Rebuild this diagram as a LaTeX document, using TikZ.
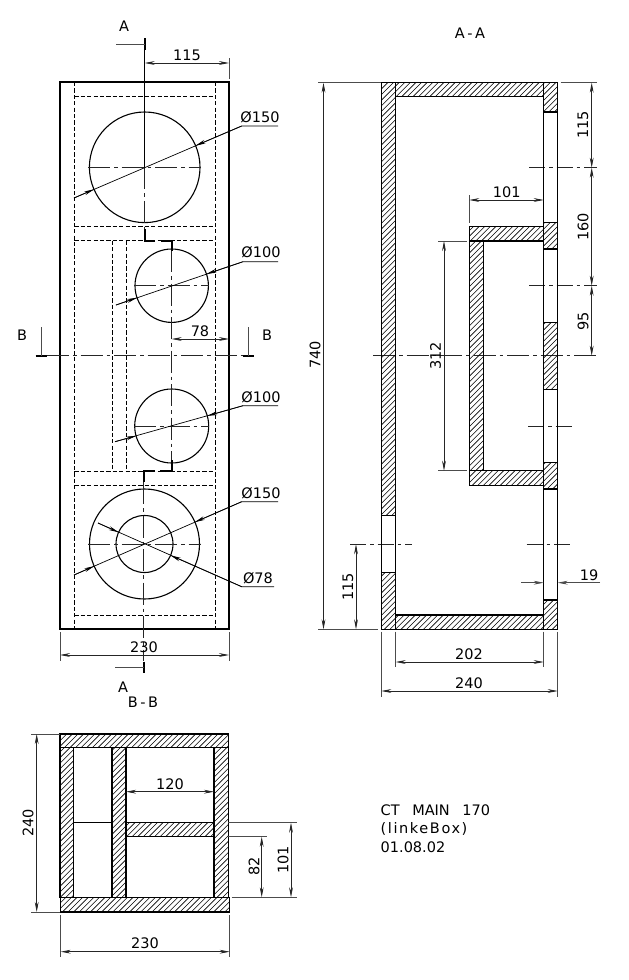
\documentclass[tikz,border=0pt]{standalone}
\usepackage{fontspec}
\setmainfont{DejaVu Sans}
\usetikzlibrary{arrows.meta,calc}
\tikzset{
  outline/.style={line width=1.4pt,black},
  wall/.style={line width=1.4pt,black},
  hidden/.style={line width=0.75pt,black,dash pattern=on 4.2pt off 2.2pt},
  center/.style={line width=0.7pt,black!85,dash pattern=on 22pt off 4pt on 3.5pt off 4pt},
  shortcenter/.style={center,dash pattern=on 16pt off 4pt on 3.5pt off 4pt},
  dim/.style={line width=0.7pt,black!85,{Stealth[length=10pt,width=3.8pt]}-{Stealth[length=10pt,width=3.8pt]}},
  extline/.style={line width=0.65pt,black!70},
  leader/.style={line width=0.7pt,black},
  tip/.style={-{Stealth[length=10pt,width=3.8pt]}},
  sect/.style={line width=2.2pt,black},
  lab/.style={font=\fontsize{14.5}{14.5}\selectfont,inner sep=0pt,text=black},
  hole/.style={line width=1.1pt,black}
}
\newcommand{\hatchbox}[4]{%
  \begin{scope}
    \clip (#1,#2) rectangle (#3,#4);
    \pgfmathtruncatemacro{\ha}{floor((#1+#2)/5.6)}
    \pgfmathtruncatemacro{\hb}{ceil((#3+#4)/5.6)}
    \foreach \hi in {\ha,...,\hb}{
      \pgfmathsetmacro{\hc}{\hi*5.6}
      \draw[line width=0.6pt,black] ({\hc-#2},#2) -- ({\hc-#4},#4);
    }
  \end{scope}
  \draw[wall] (#1,#2) rectangle (#3,#4);
}
\newcommand{\diamleader}[8]{% x1 y1 cx cy kx ky endx r
  \draw[leader] (#1,#2) -- (#5,#6) -- (#7,#6);
  \path let \n1={atan2(#2-#4,#1-#3)} in
    coordinate (tipa) at ({#3+#8*cos(\n1)},{#4+#8*sin(\n1)});
  \path let \n1={atan2(#6-#4,#5-#3)} in
    coordinate (tipb) at ({#3+#8*cos(\n1)},{#4+#8*sin(\n1)});
  \draw[leader,tip] (#1,#2) -- (tipa);
  \draw[leader,tip] (#5,#6) -- (tipb);
}
\begin{document}
\begin{tikzpicture}[x=1pt,y=-1pt]
\useasboundingbox (0,0) rectangle (629,980);
\fill[white] (0,0) rectangle (629,980);

% ===== FRONT VIEW =====
\draw[hidden] (74.3,82) -- (74.3,629) (215,82) -- (215,629);
\draw[hidden] (74.3,96.7) -- (215,96.7) (74.3,226) -- (215,226) (74.3,240.7) -- (215,240.7)
  (74.3,471) -- (215,471) (74.3,485) -- (215,485) (74.3,615) -- (215,615);
\draw[hidden] (112.7,240.7) -- (112.7,471) (126.7,240.7) -- (126.7,471);
\draw[outline] (60,82) rectangle (229,629);

\draw[hole] (144.7,167.3) circle (55.3);
\draw[hole] (171.7,285.7) circle (36.7);
\draw[hole] (171.7,426) circle (37);
\draw[hole] (144.5,544) circle (55);
\draw[hole] (144.5,544) circle (28.5);

% centre lines
\draw[center] (88,167.3) -- (200.7,167.3);
\draw[center] (134,285.7) -- (209,285.7);
\draw[center] (134,426) -- (209,426);
\draw[center] (88,544) -- (200.7,544);
\draw[leader] (144.6,50) -- (144.6,167.3);
\draw[center] (144.6,167.3) -- (144.6,229);
\draw[center] (171.7,250) -- (171.7,460);
\draw[center] (143.8,482) -- (143.8,661);
\draw[center] (47,355.7) -- (243,355.7);

% section A-A line
\draw[sect] (144.6,38) -- (144.6,50);
\draw[extline] (116,44) -- (144.6,44);
\draw[sect] (144.6,229) -- (144.6,240.7) -- (155,240.7);
\draw[sect] (160.7,240.7) -- (171.7,240.7) -- (171.7,250.7);
\draw[sect] (171.7,460) -- (171.7,471) -- (160,471);
\draw[sect] (155,471) -- (143.8,471) -- (143.8,482);
\draw[sect] (143.8,661.5) -- (143.8,672.5);
\draw[extline] (115,667.7) -- (143.8,667.7);
\node[lab] (lA1) at (124,26) {A};
\node[lab] (lA2) at (123,687) {A};

% section B-B line
\draw[sect] (35.7,355.7) -- (47,355.7);
\draw[extline] (41,327) -- (41,355.7);
\draw[sect] (243,355.7) -- (254,355.7);
\draw[extline] (248.4,327) -- (248.4,355.7);
\node[lab] (lB1) at (22,335) {B};
\node[lab] (lB2) at (267,335) {B};

% leaders
\diamleader{74}{198}{144.7}{167.3}{241.7}{126}{278}{55.3}
\node[lab] (d1) at (260,117) {Ø150};
\diamleader{116}{305}{171.7}{285.7}{243}{261.7}{278}{36.7}
\node[lab] (d2) at (261,252.5) {Ø100};
\diamleader{115}{441.7}{171.7}{426}{243}{405.7}{278}{37}
\node[lab] (d3) at (261,397) {Ø100};
\diamleader{74}{575}{144.5}{544}{241.7}{501.7}{278}{55}
\node[lab] (d4) at (261,493) {Ø150};
\diamleader{98}{523}{144.5}{544}{241.7}{586.7}{274}{28.5}
\node[lab] (d5) at (258,578) {Ø78};

% front dims
\draw[dim] (144.7,63) -- (229,63);
\draw[extline] (229,58) -- (229,79);
\node[lab] (t115a) at (187,55) {115};
\draw[dim] (171.7,339) -- (229,339);
\node[lab] (t78) at (200,331) {78};
\draw[dim] (60,655) -- (229,655);
\draw[extline] (60,632) -- (60,661) (229,632) -- (229,661);
\node[lab] (t230a) at (144,647) {230};

% ===== SECTION A-A =====
\node[lab] (lAA) at (470,33) {A\kern2.5pt-\kern2.5pt A};
\node[lab] (lBB) at (143,702.5) {B\kern2.5pt-\kern2.5pt B};

% centre lines
\draw[center] (373,355.7) -- (597,355.7);
\draw[shortcenter] (529,167.7) -- (597,167.7);
\draw[shortcenter] (529,285.7) -- (597,285.7);
\draw[shortcenter] (528,426) -- (573,426);
\draw[shortcenter] (526.7,544.3) -- (573,544.3);
\draw[shortcenter] (350,544.3) -- (411.7,544.3);

% walls
\draw[wall] (381.3,515.3) -- (381.3,572.7) (395.7,515.3) -- (395.7,572.7);
\hatchbox{381.3}{82.7}{395.7}{515.3}
\hatchbox{381.3}{572.7}{395.7}{629.3}
\hatchbox{395.7}{82.7}{543.7}{96.7}
\hatchbox{395.7}{615}{543.7}{629.3}
\draw[wall] (543.7,112) -- (543.7,600) (557.7,112) -- (557.7,600);
\hatchbox{543.7}{82.7}{557.7}{112}
\hatchbox{543.7}{222.7}{557.7}{249}
\hatchbox{543.7}{322.3}{557.7}{389.3}
\hatchbox{543.7}{462.7}{557.7}{489}
\hatchbox{543.7}{600}{557.7}{629.3}
\hatchbox{469.3}{226.3}{543.7}{241}
\hatchbox{469.3}{241}{483.3}{470.7}
\hatchbox{469.3}{470.7}{543.7}{485.3}

% A-A dims
\draw[extline] (318,82.7) -- (381,82.7) (318,629.3) -- (378,629.3);
\draw[dim] (323.5,82.7) -- (323.5,629.3);
\node[lab,rotate=90] (t740) at (315,355) {740};
\draw[extline] (438,241) -- (466.7,241) (438,470.7) -- (466.7,470.7);
\draw[dim] (444,241) -- (444,470.7);
\node[lab,rotate=90] (t312) at (435.7,356) {312};
\draw[extline] (469.3,195) -- (469.3,223);
\draw[dim] (469.3,200) -- (543.7,200);
\node[lab] (t101a) at (506.7,192.7) {101};
\draw[extline] (560.7,82.7) -- (596.7,82.7);
\draw[dim] (591.7,82.7) -- (591.7,167.7);
\node[lab,rotate=90] (t115b) at (583,125) {115};
\draw[dim] (591.7,167.7) -- (591.7,285.7);
\node[lab,rotate=90] (t160) at (583,227) {160};
\draw[dim] (591.7,285.7) -- (591.7,355.7);
\node[lab,rotate=90] (t95) at (583,321) {95};
\draw[dim] (356,544.3) -- (356,629.3);
\node[lab,rotate=90] (t115c) at (348,587) {115};
\draw[extline,tip] (521,582.7) -- (543.7,582.7);
\draw[extline,tip] (600,582.7) -- (557.7,582.7);
\node[lab] (t19) at (589,575) {19};
\draw[extline] (395.7,631.7) -- (395.7,667) (543.7,631.7) -- (543.7,667);
\draw[dim] (395.7,662) -- (543.7,662);
\node[lab] (t202) at (469,654) {202};
\draw[extline] (381.3,631.7) -- (381.3,696.7) (557.7,631.7) -- (557.7,696.7);
\draw[dim] (381.3,691) -- (557.7,691);
\node[lab] (t240a) at (469,683) {240};

% ===== SECTION B-B =====
\draw[wall] (73.3,822.7) -- (112,822.7);
\hatchbox{60}{747.7}{73.3}{897.3}
\hatchbox{214}{747.7}{228.3}{897.3}
\hatchbox{112}{747.7}{126}{897.3}
\hatchbox{126}{822.7}{214}{836.7}
\hatchbox{60}{734}{228.3}{747.7}
\hatchbox{60.3}{897.3}{229.3}{912}
\draw[dim] (126,791.7) -- (214,791.7);
\node[lab] (t120) at (170,784) {120};
\draw[extline] (31,734) -- (60,734) (31,912) -- (60,912);
\draw[dim] (36.7,734) -- (36.7,912);
\node[lab,rotate=90] (t240b) at (28,823) {240};
\draw[extline] (60.7,915) -- (60.7,956.7) (229.7,915) -- (229.7,956.7);
\draw[dim] (60.7,951.7) -- (229.7,951.7);
\node[lab] (t230b) at (145,943) {230};
\draw[extline] (228.3,836.7) -- (267,836.7) (228.3,822.7) -- (296.7,822.7) (231.7,897.3) -- (296.7,897.3);
\draw[dim] (261.7,836.7) -- (261.7,897.3);
\node[lab,rotate=90] (t82) at (254,866.7) {82};
\draw[dim] (291,822.7) -- (291,897.3);
\node[lab,rotate=90] (t101b) at (283,860) {101};

% title block
\node[lab,anchor=west] (n1) at (380.5,810) {CT\hspace{8pt} MAIN\hspace{8pt} 170};
\node[lab,anchor=west] (n2) at (380.5,829) {\addfontfeature{LetterSpace=11}(linkeBox)};
\node[lab,anchor=west] (n3) at (380.5,847) {01.08.02};
\end{tikzpicture}
\end{document}
